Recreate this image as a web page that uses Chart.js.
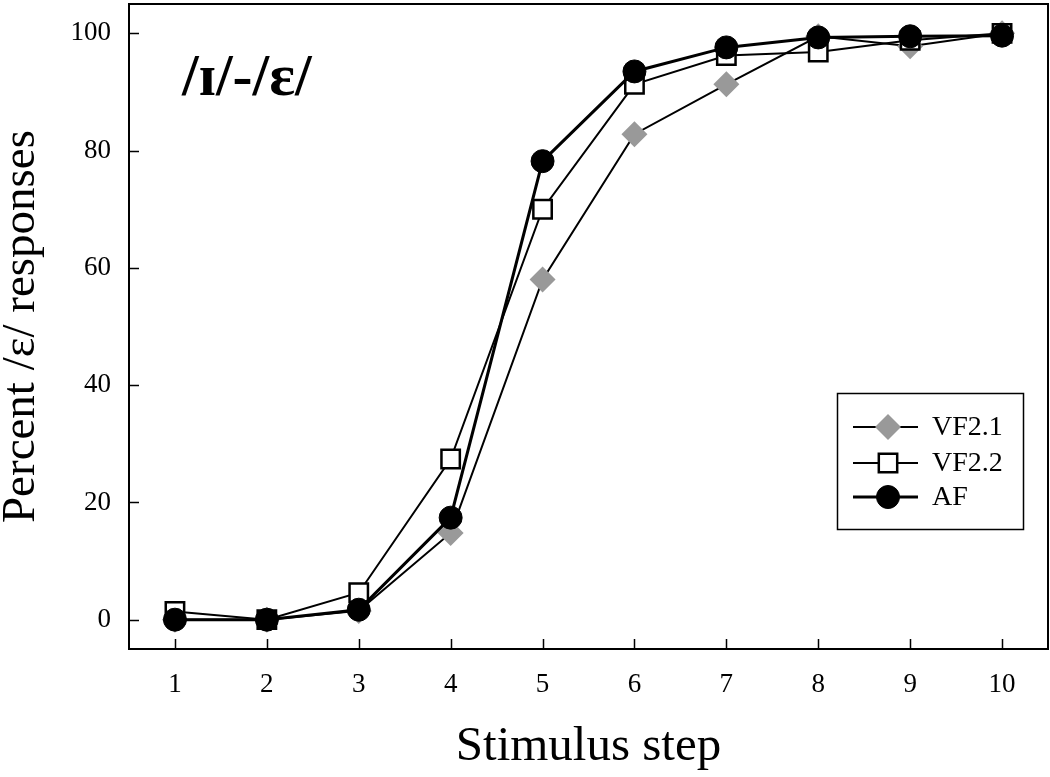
<!DOCTYPE html>
<html>
<head>
<meta charset="utf-8">
<script src="https://cdn.jsdelivr.net/npm/chart.js"></script>
<style>
  html, body { margin: 0; padding: 0; background: #fff; }
  #wrap { width: 1050px; height: 777px; }
</style>
</head>
<body>
<div id="wrap"><canvas id="chart"></canvas></div>
<script>
// stimulus steps and responses (percent /ε/)
const steps = [1, 2, 3, 4, 5, 6, 7, 8, 9, 10];
const vf21 = [0, 0, 1.5, 14.8, 58.0, 82.8, 91.3, 99.5, 97.8, 100];
const vf22 = [1.4, 0, 4.6, 27.4, 70.0, 91.3, 96.2, 96.8, 98.8, 100];
const af = [0, 0, 1.7, 17.4, 78.2, 93.5, 97.6, 99.3, 99.5, 99.6];
const yTicks = [0, 20, 40, 60, 80, 100];
const seriesNames = ['VF2.1', 'VF2.2', 'AF'];

const serif = "'Liberation Serif', 'Times New Roman', serif";

const toPoints = (vals) => steps.map((s, i) => ({ x: s, y: vals[i] }));

// frame, inward ticks, panel label and boxed legend
const framePlugin = {
    id: 'frame',
    afterDraw(chart) {
        const { ctx, chartArea: a, scales: { x, y } } = chart;
        ctx.save();
        ctx.strokeStyle = '#000';
        ctx.lineWidth = 2;
        ctx.strokeRect(a.left, a.top, a.right - a.left, a.bottom - a.top);

        ctx.lineWidth = 1.5;
        ctx.beginPath();
        x.ticks.forEach(t => {
            const px = Math.round(x.getPixelForValue(t.value)) + 0.5;
            ctx.moveTo(px, a.bottom);
            ctx.lineTo(px, a.bottom - 10);
        });
        y.ticks.forEach(t => {
            const py = Math.round(y.getPixelForValue(t.value)) + 0.5;
            ctx.moveTo(a.left, py);
            ctx.lineTo(a.left + 10, py);
        });
        ctx.stroke();

        // panel label
        ctx.fillStyle = '#000';
        ctx.font = 'bold 60px ' + serif;
        ctx.textBaseline = 'alphabetic';
        ctx.textAlign = 'left';
        ctx.fillText('/\u026A/-/\u025B/', 182, 95);

        // legend box
        ctx.lineWidth = 1.5;
        ctx.strokeRect(837.5, 393.5, 186, 136);
        const rows = [427, 463, 497];
        chart.data.datasets.forEach((ds, i) => {
            const ry = rows[i];
            ctx.strokeStyle = '#000';
            ctx.lineWidth = ds.borderWidth;
            ctx.beginPath();
            ctx.moveTo(853, ry);
            ctx.lineTo(918, ry);
            ctx.stroke();
            ctx.fillStyle = ds.pointBackgroundColor;
            ctx.strokeStyle = ds.pointBorderColor;
            ctx.lineWidth = ds.pointBorderWidth;
            Chart.helpers.drawPoint(ctx, {
                pointStyle: ds.pointStyle,
                radius: ds.pointRadius,
                rotation: 0,
                borderWidth: ds.pointBorderWidth
            }, 888, ry);
            ctx.fillStyle = '#000';
            ctx.font = '28px ' + serif;
            ctx.textBaseline = 'middle';
            ctx.fillText(ds.label, 932, ry + 1);
        });
        ctx.restore();
    }
};

new Chart(document.getElementById('chart'), {
    type: 'line',
    data: {
        datasets: [
            {
                label: seriesNames[0],
                data: toPoints(vf21),
                borderColor: '#000',
                borderWidth: 2,
                pointStyle: 'rectRot',
                pointRadius: 13,
                pointBackgroundColor: '#999999',
                pointBorderColor: '#999999',
                pointBorderWidth: 0,
                order: 2
            },
            {
                label: seriesNames[1],
                data: toPoints(vf22),
                borderColor: '#000',
                borderWidth: 2,
                pointStyle: 'rect',
                pointRadius: 13,
                pointBackgroundColor: '#fff',
                pointBorderColor: '#000',
                pointBorderWidth: 2.5,
                order: 1
            },
            {
                label: seriesNames[2],
                data: toPoints(af),
                borderColor: '#000',
                borderWidth: 3,
                pointStyle: 'circle',
                pointRadius: 11.5,
                pointBackgroundColor: '#000',
                pointBorderColor: '#000',
                pointBorderWidth: 1,
                order: 0
            }
        ]
    },
    options: {
        responsive: true,
        maintainAspectRatio: false,
        animation: false,
        layout: { autoPadding: false, padding: { left: 0, top: 4, right: 2, bottom: 0 } },
        plugins: {
            legend: { display: false },
            tooltip: { enabled: false }
        },
        scales: {
            x: {
                type: 'linear',
                min: 0.5,
                max: 10.5,
                afterBuildTicks: (s) => { s.ticks = steps.map(v => ({ value: v })); },
                afterFit: (s) => { s.height = 128; s.paddingLeft = 0; s.paddingRight = 0; },
                grid: { display: false, drawTicks: false },
                border: { display: false },
                ticks: { font: { family: serif, size: 27 }, color: '#000', padding: 20 },
                title: {
                    display: true,
                    text: 'Stimulus step',
                    font: { family: serif, size: 49 },
                    color: '#000',
                    padding: { top: 0, bottom: 0 }
                }
            },
            y: {
                min: -5,
                max: 105,
                afterBuildTicks: (s) => { s.ticks = yTicks.map(v => ({ value: v })); },
                afterFit: (s) => { s.width = 129; s.paddingTop = 0; s.paddingBottom = 0; },
                grid: { display: false, drawTicks: false },
                border: { display: false },
                ticks: { font: { family: serif, size: 27 }, color: '#000', padding: 18 },
                title: {
                    display: true,
                    text: 'Percent /\u03B5/ responses',
                    font: { family: serif, size: 47, lineHeight: 1 },
                    color: '#000',
                    padding: { top: -2, bottom: 0 }
                }
            }
        }
    },
    plugins: [framePlugin]
});
</script>
</body>
</html>
